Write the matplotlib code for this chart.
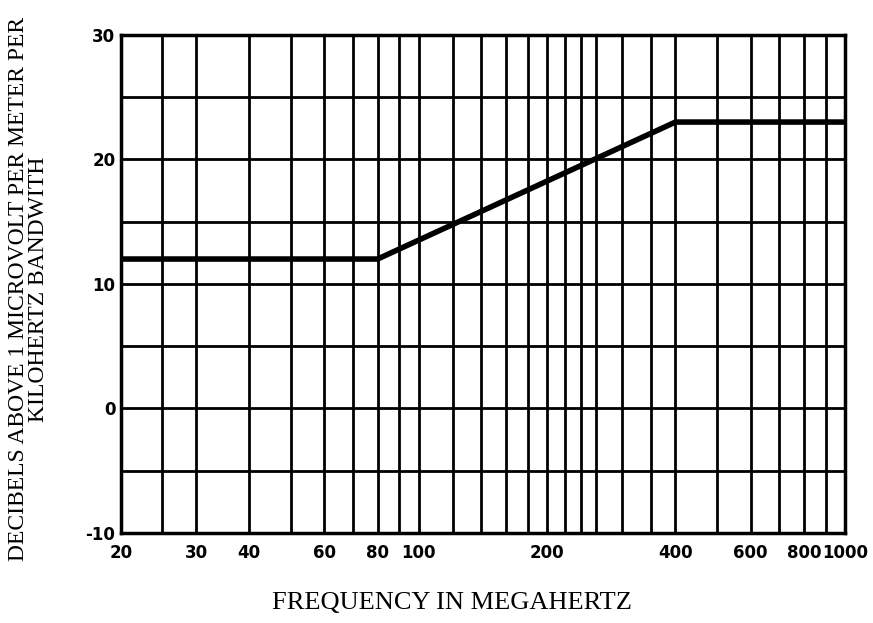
import matplotlib
matplotlib.use('Agg')
import matplotlib.pyplot as plt
from matplotlib.ticker import FixedLocator, NullLocator

plt.rcParams['axes.unicode_minus'] = False

# field strength limit curve
freq_mhz = [20, 80, 400, 1000]
level_db = [12, 12, 23, 23]

# vertical grid lines as printed on the chart paper
grid_freqs = [20, 25, 30, 40, 50, 60, 70, 80, 90, 100, 120, 140, 160, 180,
              200, 220, 240, 260, 300, 350, 400, 500, 600, 700, 800, 900, 1000]
x_tick_vals = [20, 30, 40, 60, 80, 100, 200, 400, 600, 800, 1000]
x_tick_labels = ['20', '30', '40', '60', '80', '100', '200', '400', '600', '800', '1000']
y_grid = [-10, -5, 0, 5, 10, 15, 20, 25, 30]
y_tick_vals = [-10, 0, 10, 20, 30]
y_tick_labels = ['-10', '0', '10', '20', '30']

fig = plt.figure(figsize=(8.73, 6.23), dpi=100)
ax = fig.add_axes([0.1386, 0.1445, 0.8294, 0.7995])

ax.set_xscale('log')
ax.set_xlim(20, 1000)
ax.set_ylim(-10, 30)

for f in grid_freqs:
    ax.axvline(f, color='black', lw=2.0, zorder=1)
for v in y_grid:
    ax.axhline(v, color='black', lw=2.0, zorder=1)

ax.plot(freq_mhz, level_db, color='black', lw=4.0, solid_capstyle='round',
        solid_joinstyle='round', zorder=3)

ax.xaxis.set_major_locator(FixedLocator(x_tick_vals))
ax.xaxis.set_minor_locator(NullLocator())
ax.set_xticklabels(x_tick_labels)
ax.set_yticks(y_tick_vals)
ax.set_yticklabels(y_tick_labels)
ax.tick_params(length=0, labelsize=12)
ax.tick_params(axis='x', pad=8)
ax.tick_params(axis='y', pad=4)
for lab in ax.get_xticklabels() + ax.get_yticklabels():
    lab.set_fontweight('bold')
    lab.set_family('DejaVu Sans')

for s in ax.spines.values():
    s.set_linewidth(2.5)

ax.set_xlabel('FREQUENCY IN MEGAHERTZ', family='Liberation Serif', fontsize=19)
ax.xaxis.set_label_coords(0.457, -0.118)
ax.set_ylabel('DECIBELS ABOVE 1 MICROVOLT PER METER PER\nKILOHERTZ BANDWITH',
              family='Liberation Serif', fontsize=17, linespacing=0.9)
ax.yaxis.set_label_coords(-0.1, 0.49)

fig.savefig('out.png', dpi=100)
